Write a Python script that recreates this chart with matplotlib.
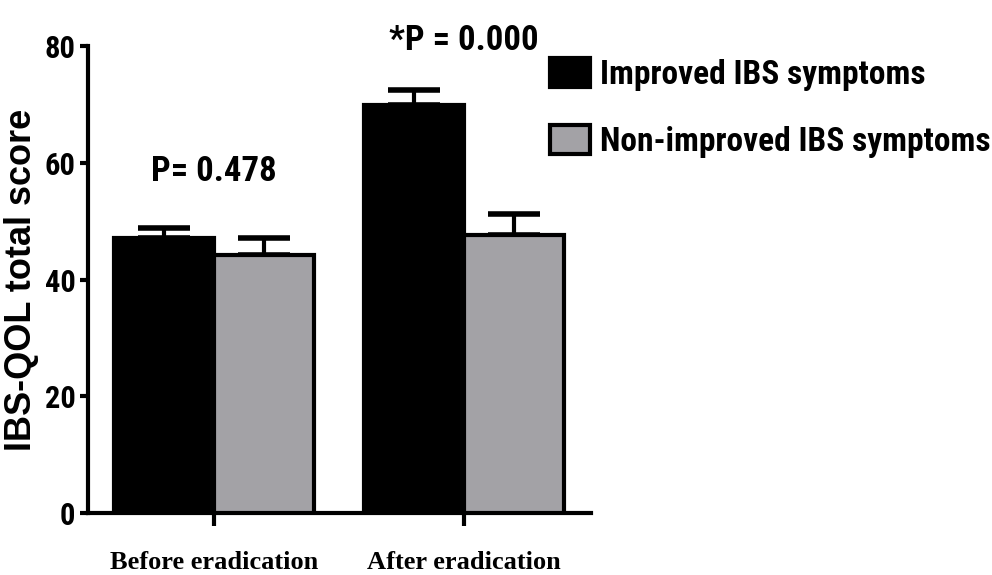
import numpy as np
import matplotlib
matplotlib.use("Agg")
import matplotlib.pyplot as plt
from matplotlib.patches import Patch
from matplotlib import font_manager

# data
groups = ["Before eradication", "After eradication"]
series = ["Improved IBS symptoms", "Non-improved IBS symptoms"]
improved = [47.1, 69.9]
improved_err = [1.8, 2.5]
nonimproved = [44.2, 47.6]
nonimproved_err = [2.9, 3.6]
p_labels = ["P= 0.478", "*P = 0.000"]
p_heights = [58.5, 81.0]

installed = {f.name for f in font_manager.fontManager.ttflist}
narrow = [f for f in ["Liberation Sans Narrow", "DejaVu Sans Condensed", "Roboto Condensed",
                      "Roboto", "Liberation Sans"] if f in installed] + ["DejaVu Sans"]
gray = "#a3a2a6"

fig = plt.figure(figsize=(9.92, 5.75), dpi=100)
ax = fig.add_axes([0.0887, 0.1078, 0.507, 0.812])

x = np.arange(len(groups))
w = 0.4
ax.bar(x - w / 2, improved, w, color="black", edgecolor="black", linewidth=3, zorder=3)
ax.bar(x + w / 2, nonimproved, w, color=gray, edgecolor="black", linewidth=3, zorder=3)

for xs, vals, errs in [(x - w / 2, improved, improved_err), (x + w / 2, nonimproved, nonimproved_err)]:
    el = ax.errorbar(xs, vals, yerr=[np.zeros(len(vals)), errs], fmt="none",
                     ecolor="black", elinewidth=3, capsize=19, capthick=4, zorder=2)
    for cap in el[1]:
        cap.set_solid_capstyle("round")

for i, (lab, h) in enumerate(zip(p_labels, p_heights)):
    ax.text(x[i], h, lab, ha="center", va="center", fontsize=25,
            fontweight="bold", family=narrow, clip_on=False)

ax.set_xlim(-0.504, 1.508)
ax.set_ylim(0, 80)
ax.set_yticks([0, 20, 40, 60, 80])
ax.set_xticks(x)
ax.set_xticklabels(groups, family="Liberation Serif", fontweight="bold", fontsize=19)
for t in ax.get_yticklabels():
    t.set_family(narrow)
    t.set_fontweight("bold")
    t.set_fontsize(22)

ax.spines["top"].set_visible(False)
ax.spines["right"].set_visible(False)
for s in ["left", "bottom"]:
    ax.spines[s].set_linewidth(3)
ax.tick_params(axis="y", length=6, width=3, pad=3)
ax.tick_params(axis="x", length=9, width=3, pad=18)

ax.set_ylabel("IBS-QOL total score", family="Liberation Sans", fontweight="bold",
              fontsize=26)
ax.yaxis.set_label_coords(-0.097, 0.5)

handles = [Patch(facecolor="black", edgecolor="black", linewidth=3),
           Patch(facecolor=gray, edgecolor="black", linewidth=3)]
fig.legend(handles, series, loc="upper left", bbox_to_anchor=(550 / 992, 1 - 58 / 575),
           frameon=False, prop={"family": narrow, "weight": "bold", "size": 24},
           handlelength=1.2, handleheight=0.96, handletextpad=0.3, labelspacing=1.03,
           borderpad=0, borderaxespad=0)

fig.savefig("out.png", dpi=100)
